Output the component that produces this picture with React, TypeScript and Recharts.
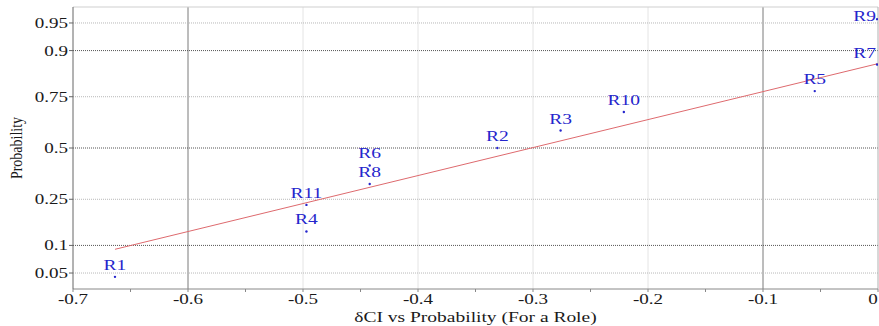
import { ComposedChart, Label, Line, ReferenceLine, Scatter, XAxis, YAxis } from 'recharts'

// role order follows the sorted δCI values (normal probability plot)
const roles = ['R1', 'R4', 'R11', 'R8', 'R6', 'R2', 'R3', 'R10', 'R5', 'R7', 'R9']
const deltaCI = [-0.6635, -0.497, -0.497, -0.442, -0.442, -0.331, -0.276, -0.221, -0.055, -0.0008, -0.0008]
const probability = [0.045, 0.136, 0.227, 0.318, 0.409, 0.5, 0.591, 0.682, 0.773, 0.864, 0.955]

// reference line end points
const fitX = [-0.6635, 0]
const fitP = [0.0913, 0.8665]

const xTicks = [-0.7, -0.65, -0.6, -0.55, -0.5, -0.45, -0.4, -0.35, -0.3, -0.25, -0.2, -0.15, -0.1, -0.05, 0]
const xGrid = [-0.6, -0.5, -0.4, -0.3, -0.2, -0.1]
const xGridStrong = [-0.6, -0.1]
const probTicks = [0.05, 0.1, 0.25, 0.5, 0.75, 0.9, 0.95]
const probStrong = [0.1, 0.5, 0.9]

const FONT = '"Liberation Serif", "Times New Roman", serif'
const STRETCH = 1.36
const Z_MAX = 1.855
const CHART_W = 879

// inverse normal CDF (Acklam) – maps probabilities onto the probit axis
function probit(p: number): number {
  const a = [-39.69683028665376, 220.9460984245205, -275.9285104469687, 138.357751867269, -30.66479806614716, 2.506628277459239]
  const b = [-54.47609879822406, 161.5858368580409, -155.6989798598866, 66.80131188771972, -13.28068155288572]
  const c = [-0.007784894002430293, -0.3223964580411365, -2.400758277161838, -2.549732539343734, 4.374664141464968, 2.938163982698783]
  const d = [0.007784695709041462, 0.3224671290700398, 2.445134137142996, 3.754408661907416]
  const lo = 0.02425
  if (p < lo || p > 1 - lo) {
    const q = Math.sqrt(-2 * Math.log(p < lo ? p : 1 - p))
    const v = (((((c[0] * q + c[1]) * q + c[2]) * q + c[3]) * q + c[4]) * q + c[5]) /
      ((((d[0] * q + d[1]) * q + d[2]) * q + d[3]) * q + 1)
    return p < lo ? v : -v
  }
  const q = p - 0.5
  const r = q * q
  return (((((a[0] * r + a[1]) * r + a[2]) * r + a[3]) * r + a[4]) * r + a[5]) * q /
    (((((b[0] * r + b[1]) * r + b[2]) * r + b[3]) * r + b[4]) * r + 1)
}

const points = roles.map((role, i) => ({ role, x: deltaCI[i], z: probit(probability[i]) }))
const fitLine = fitX.map((x, i) => ({ x, z: probit(fitP[i]) }))
const zTicks = probTicks.map(probit)

function XTick({ x, y, payload }: any) {
  const v = payload.value as number
  if (Math.abs(v * 10 - Math.round(v * 10)) > 1e-6) return null
  const text = v === 0 ? '0' : v.toFixed(1)
  // keep the last label inside the canvas
  const tx = Math.min(x, CHART_W - 6)
  return (
    <text transform={`translate(${tx},${y + 10}) scale(${STRETCH},1)`} textAnchor="middle"
      fontFamily={FONT} fontSize={14} fill="#1a1a1a">
      {text}
    </text>
  )
}

function YTick({ x, y, payload }: any) {
  const idx = zTicks.findIndex((t) => Math.abs(t - payload.value) < 1e-6)
  return (
    <text transform={`translate(${x},${y + 5}) scale(${STRETCH},1)`} textAnchor="end"
      fontFamily={FONT} fontSize={14} fill="#1a1a1a">
      {idx >= 0 ? String(probTicks[idx]) : ''}
    </text>
  )
}

function RoleMark({ cx, cy, payload }: any) {
  const atEdge = payload.x > -0.02
  const baseline = Math.max(cy - 7, 21)
  return (
    <g>
      <circle cx={cx} cy={cy} r={1.2} fill="#2525cc" />
      <text transform={`translate(${atEdge ? cx - 1 : cx},${baseline}) scale(1.3,1)`}
        textAnchor={atEdge ? 'end' : 'middle'} fontFamily={FONT} fontSize={15} fill="#2525cc">
        {payload.role}
      </text>
    </g>
  )
}

function XTitle({ viewBox }: any) {
  const cx = viewBox.x + viewBox.width / 2
  return (
    <text transform={`translate(${cx},322) scale(1.3,1)`} textAnchor="middle"
      fontFamily={FONT} fontSize={15} fill="#1a1a1a">
      δCI vs Probability (For a Role)
    </text>
  )
}

function YTitle({ viewBox }: any) {
  const cy = viewBox.y + viewBox.height / 2
  return (
    <text transform={`translate(22,${cy}) scale(1.25,1) rotate(-90)`} textAnchor="middle"
      fontFamily={FONT} fontSize={14} fill="#1a1a1a">
      Probability
    </text>
  )
}

export default function App() {
  return (
    <div style={{ position: 'absolute', left: 0, top: 0, width: CHART_W, height: 326, background: '#fff' }}>
      <ComposedChart width={CHART_W} height={326} margin={{ top: 7, right: 1, left: 13, bottom: 7 }}>
        <XAxis type="number" dataKey="x" domain={[-0.7, 0]} ticks={xTicks} interval={0}
          allowDataOverflow tick={<XTick />} tickSize={3} tickMargin={2}
          axisLine={{ stroke: '#888' }} tickLine={{ stroke: '#888' }} height={30}>
          <Label content={<XTitle />} />
        </XAxis>
        <YAxis type="number" dataKey="z" domain={[-Z_MAX, Z_MAX]} ticks={zTicks} interval={0}
          allowDataOverflow tick={<YTick />} tickSize={4} tickMargin={1} width={60}
          axisLine={{ stroke: '#666' }} tickLine={{ stroke: '#666' }}>
          <Label content={<YTitle />} />
        </YAxis>

        {xGrid.map((v) => (
          <ReferenceLine key={`vx${v}`} x={v}
            stroke={xGridStrong.includes(v) ? '#7a7a7a' : '#e4e4e4'} strokeWidth={1} />
        ))}
        {probTicks.map((p) => (
          <ReferenceLine key={`hz${p}`} y={probit(p)}
            stroke={probStrong.includes(p) ? '#555' : '#b8b8b8'} strokeDasharray="1 1" />
        ))}
        <ReferenceLine y={Z_MAX} stroke="#cfcfcf" />
        <ReferenceLine x={0} stroke="#b0b0b0" />

        <Line data={fitLine} dataKey="z" stroke="#de6a6e" strokeWidth={1}
          dot={false} activeDot={false} isAnimationActive={false} />
        <Scatter data={points} dataKey="z" shape={<RoleMark />} isAnimationActive={false} />
      </ComposedChart>
    </div>
  )
}
